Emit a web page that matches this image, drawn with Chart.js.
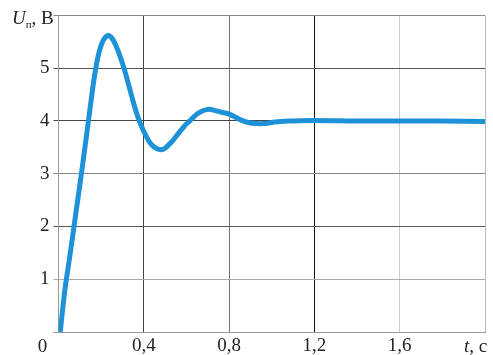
<!DOCTYPE html>
<html>
<head>
<meta charset="utf-8">
<script src="https://cdn.jsdelivr.net/npm/chart.js@4"></script>
<style>
  html, body { margin: 0; padding: 0; background: #fff; }
  #wrap { width: 493px; height: 355px; }
</style>
</head>
<body>
<div id="wrap"><canvas id="chart"></canvas></div>
<script>
// time, s
const tValues = [0.008, 0.03, 0.05, 0.07, 0.09, 0.11, 0.13, 0.15, 0.17, 0.19, 0.21, 0.233, 0.25, 0.27, 0.29, 0.31,
  0.33, 0.35, 0.37, 0.39, 0.41, 0.43, 0.45, 0.47, 0.49, 0.51, 0.53, 0.55, 0.57, 0.59, 0.61, 0.63, 0.65, 0.67,
  0.69, 0.71, 0.73, 0.75, 0.77, 0.80, 0.83, 0.86, 0.89, 0.93, 0.96, 1.0, 1.04, 1.1, 1.2, 1.4, 1.6, 1.8, 2.0];
// voltage U_п, V
const uValues = [0, 0.8, 1.35, 1.92, 2.5, 3.08, 3.68, 4.3, 4.88, 5.3, 5.53, 5.62, 5.57, 5.42, 5.21, 4.96,
  4.67, 4.37, 4.1, 3.89, 3.72, 3.58, 3.5, 3.46, 3.46, 3.52, 3.6, 3.7, 3.8, 3.9, 3.98, 4.06, 4.13, 4.18,
  4.21, 4.22, 4.2, 4.18, 4.16, 4.13, 4.07, 4.01, 3.97, 3.95, 3.95, 3.97, 3.99, 4.0, 4.01, 4.0, 4.0, 4.0, 3.99];

const xTicks = [0, 0.4, 0.8, 1.2, 1.6, 2.0];
const yTicks = [0, 1, 2, 3, 4, 5, 6];
const xTickLabels = ['', '0,4', '0,8', '1,2', '1,6', ''];
const yTickLabels = ['', '1', '2', '3', '4', '5', ''];

// scanned grid lines have uneven darkness
const xGridColors = ['#999', '#444', '#777', '#111', '#ccc', '#bbb'];
const yGridColors = ['#999', '#aaa', '#555', '#888', '#444', '#555', '#888'];

const serif = '"Liberation Serif", "Times New Roman", Times, serif';
Chart.defaults.font.family = serif;

const points = tValues.map((t, i) => ({ x: t, y: uValues[i] }));

// axis titles and the shared origin label
const extraText = {
  id: 'extraText',
  afterDraw(chart) {
    const ctx = chart.ctx;
    const xs = chart.scales.x, ys = chart.scales.y;
    ctx.save();
    ctx.fillStyle = '#222';
    ctx.textBaseline = 'alphabetic';
    // origin "0"
    ctx.font = '19px ' + serif;
    ctx.textAlign = 'center';
    ctx.fillText('0', xs.left - 16, ys.bottom + 20);
    // U_п, В
    ctx.textAlign = 'left';
    let x = 12, y = ys.top + 9;
    ctx.font = 'italic 19px ' + serif;
    ctx.fillText('U', x, y);
    x += ctx.measureText('U').width;
    ctx.font = '11px ' + serif;
    ctx.fillText('п', x, y + 4);
    x += ctx.measureText('п').width;
    ctx.font = '19px ' + serif;
    ctx.fillText(', В', x, y);
    // t, c
    x = xs.right - 21; y = ys.bottom + 20;
    ctx.font = 'italic 19px ' + serif;
    ctx.fillText('t', x, y);
    x += ctx.measureText('t').width;
    ctx.font = '19px ' + serif;
    ctx.fillText(', c', x, y);
    ctx.restore();
  }
};

new Chart(document.getElementById('chart'), {
  type: 'line',
  data: {
    datasets: [{
      data: points,
      borderColor: '#1d92d8',
      borderWidth: 5,
      pointRadius: 0,
      tension: 0.4,
      fill: false
    }]
  },
  options: {
    responsive: true,
    maintainAspectRatio: false,
    animation: false,
    layout: { padding: { top: 10, right: 8, left: 0, bottom: 0 } },
    plugins: { legend: { display: false }, tooltip: { enabled: false } },
    scales: {
      x: {
        type: 'linear',
        min: 0,
        max: 2,
        afterBuildTicks: (scale) => { scale.ticks = xTicks.map(v => ({ value: v })); },
        afterFit: (scale) => { scale.height = 23; },
        ticks: {
          padding: 3,
          color: '#222',
          font: { family: serif, size: 19 },
          maxRotation: 0,
          autoSkip: false,
          callback: (v) => xTickLabels[xTicks.findIndex(t => Math.abs(t - v) < 1e-6)] ?? ''
        },
        grid: {
          drawTicks: false,
          lineWidth: 1,
          color: (c) => xGridColors[xTicks.findIndex(t => Math.abs(t - c.tick.value) < 1e-6)] || '#999'
        },
        border: { display: true, color: '#999', width: 1 }
      },
      y: {
        min: 0,
        max: 6,
        afterBuildTicks: (scale) => { scale.ticks = yTicks.map(v => ({ value: v })); },
        afterFit: (scale) => { scale.width = 58.5; },
        ticks: {
          padding: 4,
          color: '#222',
          font: { family: serif, size: 19 },
          callback: (v) => yTickLabels[yTicks.indexOf(v)] ?? ''
        },
        grid: {
          drawTicks: true,
          tickLength: 5,
          lineWidth: 1,
          color: (c) => yGridColors[yTicks.indexOf(c.tick.value)] || '#999'
        },
        border: { display: true, color: '#999', width: 1 }
      }
    }
  },
  plugins: [extraText]
});
</script>
</body>
</html>
